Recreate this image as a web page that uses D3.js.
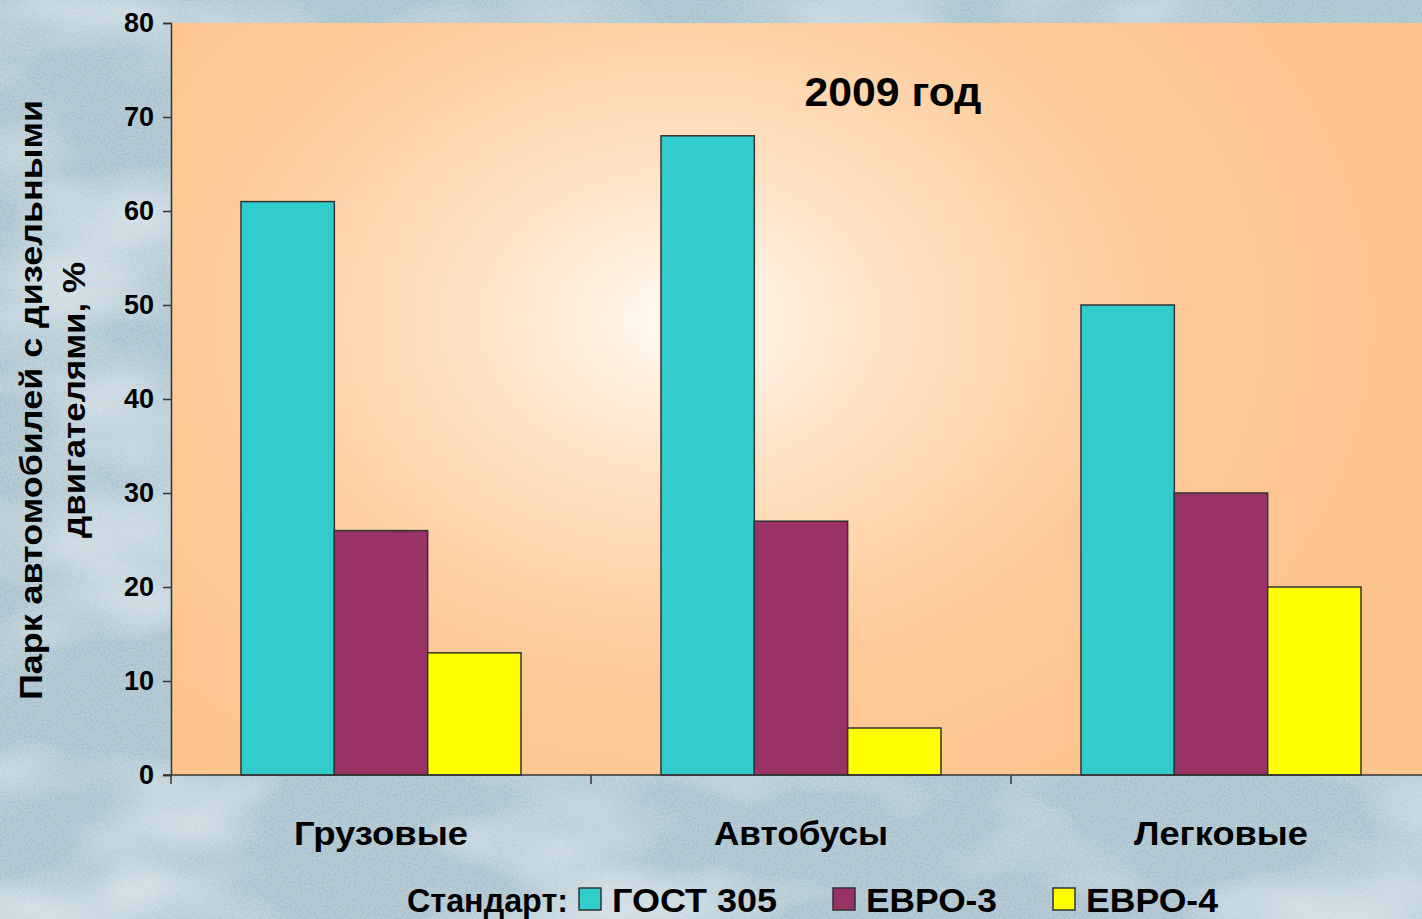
<!DOCTYPE html>
<html>
<head>
<meta charset="utf-8">
<script src="https://cdn.jsdelivr.net/npm/d3@7"></script>
<style>
  html, body { margin: 0; padding: 0; overflow: hidden; }
  svg { display: block; font-family: "Liberation Sans", Arial, sans-serif; }
</style>
</head>
<body>
<svg id="chart"></svg>
<script>
// data
const categories = ['Грузовые', 'Автобусы', 'Легковые'];
const seriesNames = ['ГОСТ 305', 'ЕВРО-3', 'ЕВРО-4'];
const gost305 = [61, 68, 50];
const euro3 = [26, 27, 30];
const euro4 = [13, 5, 20];
const yTicks = [0, 10, 20, 30, 40, 50, 60, 70, 80];
const colors = ['#33cccc', '#993366', '#ffff00'];

const W = 1422, H = 919;
const plotL = 171, plotT = 23, plotB = 775, plotR = 1422;

const svg = d3.select('#chart').attr('width', W).attr('height', H);
const defs = svg.append('defs');

// textured blue-grey background
const f = defs.append('filter').attr('id', 'marble').attr('x', 0).attr('y', 0).attr('width', '100%').attr('height', '100%');
f.append('feTurbulence').attr('type', 'fractalNoise').attr('baseFrequency', '0.004 0.008').attr('numOctaves', 3).attr('seed', 7).attr('result', 'big');
f.append('feColorMatrix').attr('in', 'big').attr('type', 'matrix')
  .attr('values', '0 0 0 0 0.86  0 0 0 0 0.92  0 0 0 0 0.95  1.6 0 0 0 -0.75').attr('result', 'light');
f.append('feTurbulence').attr('type', 'fractalNoise').attr('baseFrequency', 0.5).attr('numOctaves', 2).attr('seed', 3).attr('result', 'fine');
f.append('feColorMatrix').attr('in', 'fine').attr('type', 'matrix')
  .attr('values', '0 0 0 0 0.62  0 0 0 0 0.78  0 0 0 0 0.74  0 0 0 0.7 0').attr('result', 'grain');
f.append('feFlood').attr('flood-color', '#9fb6ca').attr('result', 'base');
const fm = f.append('feMerge');
fm.append('feMergeNode').attr('in', 'base');
fm.append('feMergeNode').attr('in', 'grain');
fm.append('feMergeNode').attr('in', 'light');

svg.append('rect').attr('width', W).attr('height', H).attr('fill', '#9fb6ca').attr('filter', 'url(#marble)');

// plot area gradient (light centre, orange edges)
const rg = defs.append('radialGradient').attr('id', 'plotBg')
  .attr('gradientUnits', 'userSpaceOnUse')
  .attr('cx', 680).attr('cy', 320).attr('r', 720)
  .attr('gradientTransform', 'translate(680,320) scale(1,0.75) translate(-680,-320)');
rg.append('stop').attr('offset', 0).attr('stop-color', '#fffaf4');
rg.append('stop').attr('offset', 0.28).attr('stop-color', '#fee2c4');
rg.append('stop').attr('offset', 0.65).attr('stop-color', '#fdcb9a');
rg.append('stop').attr('offset', 1).attr('stop-color', '#fdc48d');

svg.append('rect')
  .attr('x', plotL).attr('y', plotT)
  .attr('width', plotR - plotL).attr('height', plotB - plotT)
  .attr('fill', 'url(#plotBg)');

const y = d3.scaleLinear().domain([0, 80]).range([plotB, plotT]);
const x = d3.scaleBand().domain(categories).range([plotL, plotL + 3 * 420]);
const xInner = d3.scaleBand().domain(seriesNames)
  .range([70, 420 - 70]);

const rows = categories.map((c, i) => ({ cat: c, vals: [gost305[i], euro3[i], euro4[i]] }));

// bars
const groups = svg.selectAll('.grp').data(rows).join('g')
  .attr('class', 'grp')
  .attr('transform', d => `translate(${x(d.cat)},0)`);

groups.selectAll('rect')
  .data(d => d.vals.map((v, j) => ({ name: seriesNames[j], v, j })))
  .join('rect')
  .attr('x', d => xInner(d.name))
  .attr('y', d => y(d.v))
  .attr('width', xInner.bandwidth())
  .attr('height', d => plotB - y(d.v))
  .attr('fill', d => colors[d.j])
  .attr('stroke', '#333')
  .attr('stroke-width', 1.5);

// y axis
const yAxis = svg.append('g')
  .attr('transform', `translate(${plotL},0)`)
  .call(d3.axisLeft(y).tickValues(yTicks).tickSize(8).tickPadding(9));
yAxis.select('.domain').attr('stroke', '#333').attr('stroke-width', 1.5);
yAxis.selectAll('.tick line').attr('stroke', '#333').attr('stroke-width', 1.5);
yAxis.selectAll('.tick text')
  .attr('fill', '#000')
  .style('font-family', '"Liberation Sans", Arial, sans-serif')
  .style('font-size', '27px')
  .style('font-weight', 'bold');

// x axis line + ticks at category boundaries
const xAxis = svg.append('g');
xAxis.append('line')
  .attr('x1', plotL - 8).attr('x2', plotR)
  .attr('y1', plotB).attr('y2', plotB)
  .attr('stroke', '#333').attr('stroke-width', 1.5);
xAxis.selectAll('.xt').data(categories).join('line')
  .attr('class', 'xt')
  .attr('x1', d => x(d)).attr('x2', d => x(d))
  .attr('y1', plotB).attr('y2', plotB + 9)
  .attr('stroke', '#333').attr('stroke-width', 1.5);
xAxis.selectAll('.xl').data(categories).join('text')
  .attr('class', 'xl')
  .attr('x', d => x(d) + x.bandwidth() / 2)
  .attr('y', 845)
  .attr('text-anchor', 'middle')
  .attr('textLength', 174)
  .attr('lengthAdjust', 'spacingAndGlyphs')
  .style('font-size', '33px')
  .style('font-weight', 'bold')
  .text(d => d);

// title
svg.append('text')
  .attr('x', 893).attr('y', 106)
  .attr('text-anchor', 'middle')
  .attr('textLength', 177)
  .attr('lengthAdjust', 'spacingAndGlyphs')
  .style('font-size', '40px')
  .style('font-weight', 'bold')
  .text('2009 год');

// y label
const yl = svg.append('text')
  .attr('transform', 'translate(0,400) rotate(-90)')
  .attr('text-anchor', 'middle')
  .style('font-size', '32px')
  .style('font-weight', 'bold');
yl.append('tspan').attr('x', 0).attr('y', 42).attr('textLength', 600).attr('lengthAdjust', 'spacingAndGlyphs')
  .text('Парк автомобилей с дизельными');
yl.append('tspan').attr('x', 0).attr('y', 85).attr('textLength', 276).attr('lengthAdjust', 'spacingAndGlyphs')
  .text('двигателями, %');

// legend
const legY = 912;
const leg = svg.append('g');
leg.append('text')
  .attr('x', 407).attr('y', legY)
  .attr('textLength', 161)
  .attr('lengthAdjust', 'spacingAndGlyphs')
  .style('font-size', '33px').style('font-weight', 'bold')
  .text('Стандарт:');
const legX = [579, 833, 1053];
const legW = [165, 131, 132];
seriesNames.forEach((s, i) => {
  leg.append('rect')
    .attr('x', legX[i]).attr('y', legY - 24)
    .attr('width', 22).attr('height', 22)
    .attr('fill', colors[i]).attr('stroke', '#333').attr('stroke-width', 1.5);
  leg.append('text')
    .attr('x', legX[i] + 33).attr('y', legY)
    .attr('textLength', legW[i])
    .attr('lengthAdjust', 'spacingAndGlyphs')
    .style('font-size', '33px').style('font-weight', 'bold')
    .text(s);
});
</script>
</body>
</html>
